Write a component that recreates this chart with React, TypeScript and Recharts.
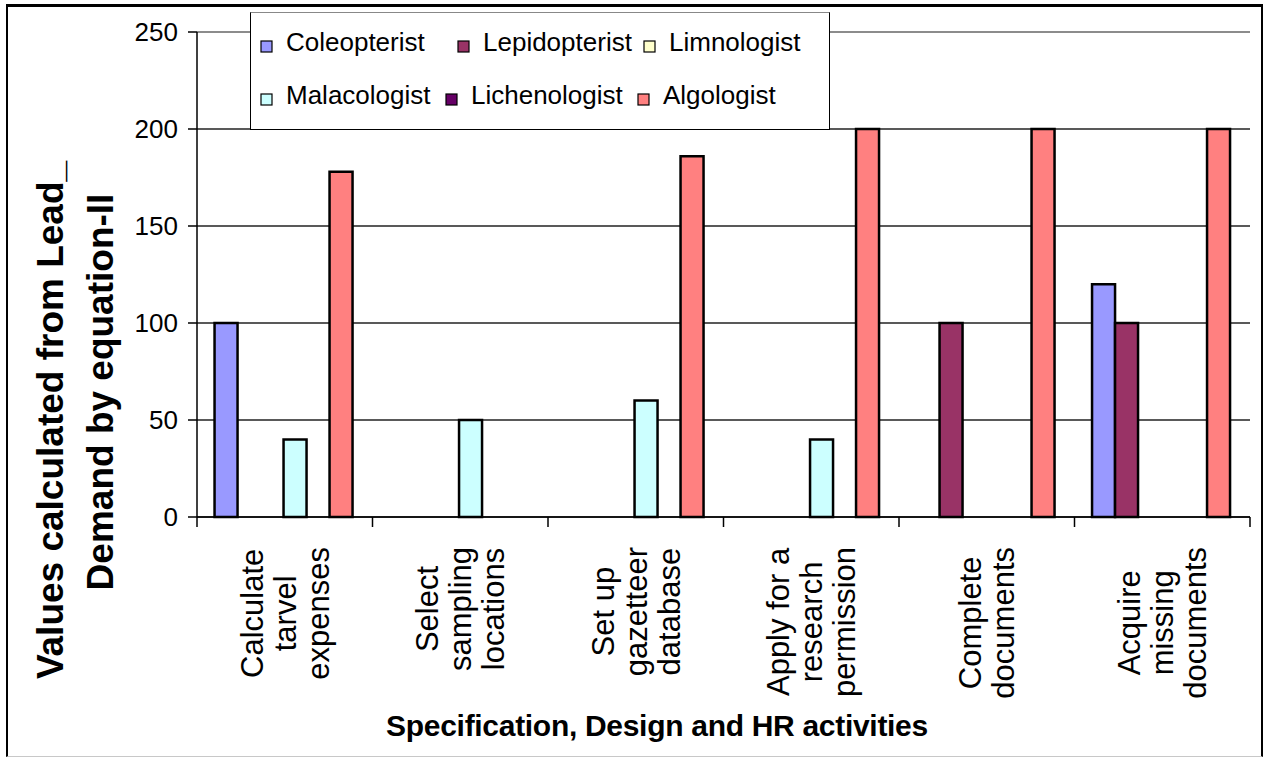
import React from "react";
import {
  BarChart,
  Bar,
  XAxis,
  YAxis,
  CartesianGrid,
  Legend,
  ReferenceLine,
  Label,
} from "recharts";

// ---- data ----
const categories = [
  "Calculate\ntarvel\nexpenses",
  "Select\nsampling\nlocations",
  "Set up\ngazetteer\ndatabase",
  "Apply for a\nresearch\npermission",
  "Complete\ndocuments",
  "Acquire\nmissing\ndocuments",
];
const seriesNames = [
  "Coleopterist",
  "Lepidopterist",
  "Limnologist",
  "Malacologist",
  "Lichenologist",
  "Algologist",
];
const coleopterist = [100, 0, 0, 0, 0, 120];
const lepidopterist = [0, 0, 0, 0, 100, 100];
const limnologist = [0, 0, 0, 0, 0, 0];
const malacologist = [40, 50, 60, 40, 0, 0];
const lichenologist = [0, 0, 0, 0, 0, 0];
const algologist = [178, 0, 186, 200, 200, 200];
const yTicks = [0, 50, 100, 150, 200, 250];
const seriesColors = ["#9999FF", "#993366", "#FFFFCC", "#CCFFFF", "#660066", "#FF8080"];
const seriesValues = [coleopterist, lepidopterist, limnologist, malacologist, lichenologist, algologist];

const data = categories.map((c, i) => {
  const row: Record<string, any> = { name: c };
  seriesNames.forEach((s, k) => {
    row[s] = seriesValues[k][i];
  });
  return row;
});

// ---- layout ----
const CHART_W = 1267;
const CHART_H = 759;
const PLOT_LEFT = 197;
const PLOT_RIGHT = 1250;
const PLOT_TOP = 32;
const PLOT_BOTTOM = 517;
const Y_AXIS_W = 90;
const X_AXIS_H = CHART_H - PLOT_BOTTOM;
const BAND = (PLOT_RIGHT - PLOT_LEFT) / categories.length;
const FONT = "'Liberation Sans', Arial, sans-serif";
const XTICK_FS = 31;

let measureCtx: CanvasRenderingContext2D | null = null;
function measure(text: string, fs: number): number {
  try {
    if (!measureCtx) {
      const c = document.createElement("canvas");
      measureCtx = c.getContext("2d");
    }
    if (measureCtx) {
      measureCtx.font = `${fs}px 'Liberation Sans', Arial, sans-serif`;
      return measureCtx.measureText(text).width;
    }
  } catch (e) {}
  return text.length * fs * 0.52;
}

const XTick = (props: any) => {
  const { x, payload, index } = props;
  const lines: string[] = String(payload.value).split("\n");
  const maxW = Math.max(...lines.map((l) => measure(l, XTICK_FS)));
  const top = PLOT_BOTTOM + 30;
  const cy = top + maxW / 2;
  const spacing = 33;
  const n = lines.length;
  const isLast = index === categories.length - 1;
  return (
    <g>
      <line x1={x - BAND / 2} x2={x - BAND / 2} y1={PLOT_BOTTOM} y2={PLOT_BOTTOM + 10} stroke="#000" strokeWidth={1.5} />
      {isLast && (
        <line x1={x + BAND / 2} x2={x + BAND / 2} y1={PLOT_BOTTOM} y2={PLOT_BOTTOM + 10} stroke="#000" strokeWidth={1.5} />
      )}
      {lines.map((l, i) => {
        const cx = x + (i - (n - 1) / 2) * spacing;
        return (
          <text
            key={i}
            transform={`translate(${cx},${cy}) rotate(-90)`}
            textAnchor="middle"
            dy="0.35em"
            fontSize={XTICK_FS}
            fontFamily={FONT}
            fill="#000"
          >
            {l}
          </text>
        );
      })}
    </g>
  );
};

const YTitle = () => (
  <g fontFamily={FONT} fontWeight="bold" fontSize={37} fill="#000">
    <text transform={`translate(50,420) rotate(-90)`} textAnchor="middle" dy="0.35em">
      Values calculated from Lead_
    </text>
    <text transform={`translate(100,392) rotate(-90)`} textAnchor="middle" dy="0.35em">
      Demand by equation-II
    </text>
  </g>
);

const XTitle = () => (
  <text x={657} y={736} textAnchor="middle" fontFamily={FONT} fontWeight="bold" fontSize={30} letterSpacing={-0.3} fill="#000">
    Specification, Design and HR activities
  </text>
);

// legend item positions inside the legend box
const legendSquare = [
  [10, 28],
  [207, 28],
  [393, 28],
  [10, 81],
  [195, 81],
  [387, 81],
];

const LegendContent = () => {
  return (
    <svg width={578} height={116} style={{ display: "block" }}>
      {seriesNames.map((name, i) => {
        const [sx, sy] = legendSquare[i];
        return (
          <g key={name}>
            <rect x={sx} y={sy} width={11} height={11} fill={seriesColors[i]} stroke="#000" strokeWidth={1.2} />
            <text x={sx + 25} y={sy + 10} fontFamily={FONT} fontSize={26} fill="#000">
              {name}
            </text>
          </g>
        );
      })}
    </svg>
  );
};

export default function App() {
  return (
    <div style={{ position: "absolute", left: 0, top: 0, width: CHART_W, height: CHART_H, background: "#fff" }}>
      <div
        style={{
          position: "absolute",
          left: 6,
          top: 4,
          width: 1263 - 6,
          height: 757 - 4,
          boxSizing: "border-box",
          borderTop: "3px solid #000",
          borderLeft: "2px solid #000",
          borderRight: "2px solid #000",
          borderBottom: "1px solid #c8c8c8",
          background: "#fff",
        }}
      />
      <div style={{ position: "absolute", left: 0, top: 0 }}>
        <BarChart
          width={CHART_W}
          height={CHART_H}
          data={data}
          margin={{ top: PLOT_TOP, right: CHART_W - PLOT_RIGHT, left: PLOT_LEFT - Y_AXIS_W, bottom: 0 }}
          barCategoryGap="10%"
          barGap={0}
        >
          <CartesianGrid vertical={false} stroke="#222" strokeWidth={1.3} />
          <XAxis
            dataKey="name"
            height={X_AXIS_H}
            interval={0}
            tickLine={false}
            axisLine={{ stroke: "#000", strokeWidth: 1.5 }}
            tick={<XTick />}
          >
            <Label content={<XTitle />} />
          </XAxis>
          <YAxis
            width={Y_AXIS_W}
            domain={[0, 250]}
            ticks={yTicks}
            interval={0}
            tickSize={9}
            tickMargin={10}
            tickLine={{ stroke: "#000", strokeWidth: 1.5 }}
            axisLine={{ stroke: "#000", strokeWidth: 1.5 }}
            tick={{ fontSize: 26, fill: "#000", fontFamily: FONT }}
          >
            <Label content={<YTitle />} />
          </YAxis>
          <YAxis
            yAxisId="right"
            orientation="right"
            width={0}
            domain={[0, 250]}
            tick={false}
            tickLine={false}
            axisLine={{ stroke: "#8c8c8c", strokeWidth: 2 }}
          />
          <ReferenceLine y={250} stroke="#8c8c8c" strokeWidth={2} />
          <Legend
            layout="horizontal"
            verticalAlign="middle"
            align="center"
            content={<LegendContent />}
            wrapperStyle={{
              position: "absolute",
              left: 250,
              top: 12,
              width: 580,
              height: 118,
              border: "1px solid #000",
              borderTop: "1px solid #888",
              background: "#fff",
              boxSizing: "border-box",
            }}
          />
          {seriesNames.map((s, k) => (
            <Bar
              key={s}
              dataKey={s}
              name={s}
              fill={seriesColors[k]}
              stroke="#000"
              strokeWidth={2.5}
              isAnimationActive={false}
            />
          ))}
        </BarChart>
      </div>
    </div>
  );
}
